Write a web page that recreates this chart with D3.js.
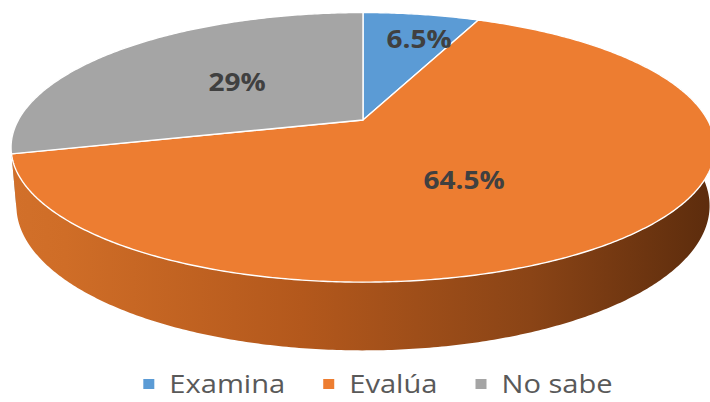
<!DOCTYPE html>
<html>
<head>
<meta charset="utf-8">
<script src="https://cdn.jsdelivr.net/npm/d3@7"></script>
<style>
  html, body { margin: 0; padding: 0; background: #ffffff; }
  svg { display: block; }
</style>
</head>
<body>
<svg id="chart" width="710" height="402"></svg>
<script>
// Survey answers and their shares (%)
const categories = ["Examina", "Evalúa", "No sabe"];
const values = [6.5, 64.5, 29];
const valueLabels = ["6.5%", "64.5%", "29%"];
const colors = ["#5B9BD5", "#ED7D31", "#A5A5A5"];

const W = 710, H = 402;
const svg = d3.select("#chart");

// Perspective camera looking down on a unit-radius disc
const view = {
  cx: 363, cy: 120,      // screen position of the disc centre
  k: 1575,               // focal scale
  dist: 4.57,            // camera distance (in disc radii)
  tilt: Math.asin(0.375),// elevation of the camera
  thick: 0.181           // disc thickness (in disc radii)
};
const sinT = Math.sin(view.tilt), cosT = Math.cos(view.tilt);

// angle measured clockwise from 12 o'clock, r in radii, h = height
function project(theta, r, h) {
  const x = r * Math.sin(theta), y = r * Math.cos(theta);
  const depth = y * cosT + view.dist - h * sinT;
  const up = y * sinT + h * cosT;
  return [view.cx + view.k * x / depth, view.cy - view.k * up / depth];
}

function arcPoints(a0, a1, r, h) {
  const n = Math.max(2, Math.ceil(Math.abs(a1 - a0) / 0.01));
  return d3.range(n + 1).map(i => project(a0 + (a1 - a0) * i / n, r, h));
}

const pie = d3.pie().sort(null).value(d => d);
const arcs = pie(values);
const line = d3.line();

// Shading of the rim, darker toward the right
const defs = svg.append("defs");
const rimStops = [
  ["#D2702A", "#CF6D27", "#B3581C", "#8A4416", "#5E2D0D"],
  ["#D2702A", "#CF6D27", "#B3581C", "#8A4416", "#5E2D0D"],
  ["#9a9a9a", "#949494", "#848484", "#6c6c6c", "#555555"]
];
const stopOffsets = [0, 0.08, 0.42, 0.75, 1];
arcs.forEach((a, i) => {
  const g = defs.append("linearGradient")
    .attr("id", "rim" + i)
    .attr("gradientUnits", "userSpaceOnUse")
    .attr("x1", 10).attr("y1", 0).attr("x2", 705).attr("y2", 0);
  stopOffsets.forEach((o, j) => {
    g.append("stop").attr("offset", o).attr("stop-color", rimStops[i][j]);
  });
});

// Rim (only the front half can be seen)
const visLo = Math.PI / 3, visHi = 5 * Math.PI / 3;
const rimOrder = arcs.map((a, i) => i)
  .sort((p, q) => {
    const mp = (arcs[p].startAngle + arcs[p].endAngle) / 2;
    const mq = (arcs[q].startAngle + arcs[q].endAngle) / 2;
    return Math.cos(mq) - Math.cos(mp);
  });
const rimG = svg.append("g");
rimOrder.forEach(i => {
  const a = arcs[i];
  const a0 = Math.max(a.startAngle, visLo), a1 = Math.min(a.endAngle, visHi);
  if (a1 <= a0) return;
  const pts = arcPoints(a0, a1, 1, 0).concat(arcPoints(a1, a0, 1, -view.thick));
  rimG.append("path")
    .attr("d", line(pts) + "Z")
    .attr("fill", "url(#rim" + i + ")");
});

// Top faces of the slices
const topG = svg.append("g");
arcs.forEach((a, i) => {
  const pts = [project(0, 0, 0)].concat(arcPoints(a.startAngle, a.endAngle, 1, 0));
  topG.append("path")
    .attr("d", line(pts) + "Z")
    .attr("fill", colors[i])
    .attr("stroke", "#ffffff")
    .attr("stroke-width", 1.4)
    .attr("stroke-linejoin", "round");
});

// Value labels inside the slices
const labelPlace = [
  { r: 0.74, shift: 0.05 },
  { r: 0.5, shift: 0.14 },
  { r: 0.5, shift: 0.02 }
];
const labelG = svg.append("g")
  .attr("font-family", "'Open Sans', sans-serif")
  .attr("font-weight", 700)
  .attr("font-size", 25)
  .attr("fill", "#404040");
arcs.forEach((a, i) => {
  const mid = (a.startAngle + a.endAngle) / 2 + labelPlace[i].shift;
  const [x, y] = project(mid, labelPlace[i].r, 0);
  labelG.append("text")
    .attr("transform", `translate(${x},${y}) scale(1.12,1)`)
    .attr("text-anchor", "middle")
    .attr("dy", "0.36em")
    .text(valueLabels[i]);
});

// Legend
const legend = svg.append("g")
  .attr("font-family", "'Open Sans', sans-serif")
  .attr("font-size", 26)
  .attr("fill", "#595959");
const stretch = 1.12;
const items = categories.map((c, i) => {
  const g = legend.append("g");
  g.append("rect").attr("width", 11).attr("height", 10)
    .attr("y", -14).attr("fill", colors[i]);
  const t = g.append("text")
    .attr("transform", `translate(26,0) scale(${stretch},1)`)
    .text(c);
  return { g, w: 26 + t.node().getComputedTextLength() * stretch };
});
const gap = 38;
const total = d3.sum(items, d => d.w) + gap * (items.length - 1);
let cursor = 378 - total / 2;
items.forEach(it => {
  it.g.attr("transform", `translate(${cursor},393)`);
  cursor += it.w + gap;
});
</script>
</body>
</html>
